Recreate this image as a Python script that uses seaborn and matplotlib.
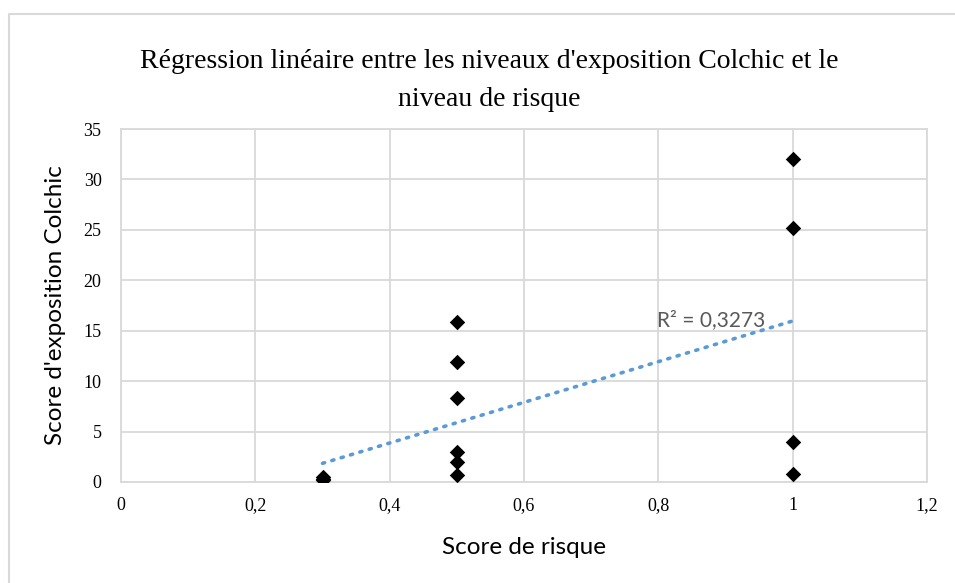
import numpy as np
import pandas as pd
import matplotlib
matplotlib.use("Agg")
import matplotlib.pyplot as plt
from matplotlib.lines import Line2D
import seaborn as sns

# Risk score (x) and Colchic exposure score (y) per measurement
risk_score = [0.3, 0.3, 0.3,
              0.5, 0.5, 0.5, 0.5, 0.5, 0.5,
              1.0, 1.0, 1.0, 1.0]
exposure_score = [0.15, 0.3, 0.45,
                  15.9, 11.9, 8.3, 3.0, 2.0, 0.7,
                  32.0, 25.2, 4.0, 0.8]
r2_label = "R² = 0,3273"

x_ticks = [0, 0.2, 0.4, 0.6, 0.8, 1.0, 1.2]
x_tick_labels = ["0", "0,2", "0,4", "0,6", "0,8", "1", "1,2"]
y_ticks = [0, 5, 10, 15, 20, 25, 30, 35]
y_tick_labels = ["0", "5", "10", "15", "20", "25", "30", "35"]

df = pd.DataFrame({"risque": risk_score, "exposition": exposure_score})

sns.set_theme(style="white")
grid_col = "#d9d9d9"

fig = plt.figure(figsize=(9.55, 5.83), dpi=100)
ax = fig.add_axes([121 / 955, 101 / 583, 806 / 955, 353 / 583])

# Linear trend line (dotted) over the data range
sns.regplot(data=df, x="risque", y="exposition", ax=ax, scatter=False, ci=None,
            line_kws=dict(color="#5b9bd5", lw=2.6, linestyle=(0, (0.6, 2.1)),
                          dash_capstyle="round"))
# Measurements
sns.scatterplot(data=df, x="risque", y="exposition", ax=ax, marker="D", s=62,
                color="black", edgecolor="black", linewidth=0, zorder=3)

ax.set_xlim(0, 1.2)
ax.set_ylim(0, 35)
ax.set_xticks(x_ticks)
ax.set_xticklabels(x_tick_labels)
ax.set_yticks(y_ticks)
ax.set_yticklabels(y_tick_labels)
ax.grid(True, color=grid_col, lw=1.3)
ax.set_axisbelow(True)
for sp in ax.spines.values():
    sp.set_color(grid_col)
    sp.set_linewidth(1.3)
    sp.set_visible(True)

ax.tick_params(axis="both", length=0, labelsize=13, colors="black")
ax.tick_params(axis="y", pad=14)
ax.tick_params(axis="x", pad=11)
for lab in ax.get_xticklabels() + ax.get_yticklabels():
    lab.set_family("Liberation Serif")

ax.set_xlabel("Score de risque", family="Lato", fontsize=17.5, color="black", va="center")
ax.set_ylabel("Score d'exposition Colchic", family="Lato", fontsize=17.5, color="black",
              va="center")
ax.xaxis.set_label_coords(0.5, (482 - 548) / 353)
ax.yaxis.set_label_coords((55 - 121) / 806, 0.5)

ax.text(0.798, 16.1, r2_label, family="Lato", fontsize=15, color="#595959",
        va="center", ha="left")

fig.text(489 / 955, 1 - 62 / 583,
         "Régression linéaire entre les niveaux d'exposition Colchic et le",
         ha="center", va="center", family="Liberation Serif", fontsize=20, color="black")
fig.text(489 / 955, 1 - 100 / 583, "niveau de risque",
         ha="center", va="center", family="Liberation Serif", fontsize=20, color="black")

# Chart frame
fig.add_artist(Line2D([9 / 955, 9 / 955, 1.0], [0.0, 1 - 14 / 583, 1 - 14 / 583],
                      transform=fig.transFigure, color=grid_col, lw=1.5))

fig.savefig("out.png", dpi=100, facecolor="white")
